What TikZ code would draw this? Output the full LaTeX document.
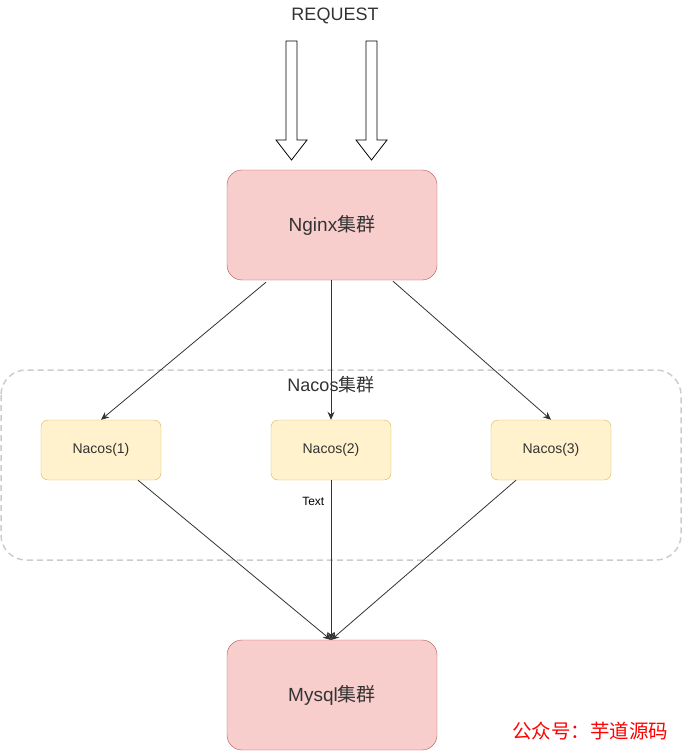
\documentclass[tikz,border=0pt]{standalone}
\usepackage{fontspec}
\setmainfont{Liberation Sans}
\newfontfamily\cjk{Noto Sans CJK SC}
\usetikzlibrary{arrows.meta}
\definecolor{redfill}{HTML}{F8CECC}
\definecolor{redline}{HTML}{B85450}
\definecolor{yelfill}{HTML}{FFF2CC}
\definecolor{yelline}{HTML}{D6B656}
\definecolor{txt}{HTML}{333333}
\definecolor{grp}{HTML}{CCCCCC}
\begin{document}
\begin{tikzpicture}[x=1pt,y=-1pt,
  bigbox/.style={draw=redline,fill=redfill,rounded corners=15pt,minimum width=210pt,minimum height=110pt,inner sep=0pt,font=\fontsize{19}{21}\selectfont,text=txt},
  nacbox/.style={draw=yelline,fill=yelfill,rounded corners=7pt,minimum width=120pt,minimum height=60pt,inner sep=0pt,font=\fontsize{14}{16}\selectfont,text=txt},
  conn/.style={draw=txt,line width=0.8pt,-{Stealth[length=8pt,width=7pt]}},
  blockarrow/.style={draw=black,fill=white,line width=0.8pt}]
\useasboundingbox (0,0) rectangle (682,751);
% group
\draw[grp,dashed,dash pattern=on 6pt off 4pt,line width=1.5pt,rounded corners=25pt] (1,370) rectangle (681,560);
\node[font=\fontsize{18}{20}\selectfont,text=txt] (grplabel) at (331,385) {Nacos{\cjk 集群}};
% request
\node[font=\fontsize{18}{20}\selectfont,text=txt] (req) at (335,16) {REQUEST};
\draw[blockarrow] (286,41) -- (297,41) -- (297,140) -- (307,140) -- (291.5,160) -- (276,140) -- (286,140) -- cycle;
\draw[blockarrow] (366,41) -- (377,41) -- (377,140) -- (387,140) -- (371.5,160) -- (356,140) -- (366,140) -- cycle;
% boxes
\node[bigbox] (nginx) at (332,225) {\raisebox{-1pt}{Nginx{\cjk 集群}}};
\node[bigbox] (mysql) at (332,695) {\raisebox{-1pt}{Mysql{\cjk 集群}}};
\node[nacbox] (n1) at (101,450) {\raisebox{-2pt}{Nacos(1)}};
\node[nacbox] (n2) at (331,450) {\raisebox{-2pt}{Nacos(2)}};
\node[nacbox] (n3) at (551,450) {\raisebox{-2pt}{Nacos(3)}};
\coordinate (m) at (331,640);
% connectors
\draw[conn] (nginx.south -| 266,0) ++(0,2) -- (n1.north);
\draw[conn] (nginx.south -| n2.north) -- (n2.north);
\draw[conn] (nginx.south -| 393,0) ++(0,1) -- (n3.north);
\draw[conn] (n1.south -| 138,0) -- (m);
\draw[conn] (n2.south) -- node[pos=0.13,left=3pt,font=\fontsize{12}{14}\selectfont,text=black] (tlab) {Text} (m);
\draw[conn] (n3.south -| 516,0) -- (m);
% watermark
\node[text=red,font=\cjk\fontsize{19.5}{22}\selectfont,anchor=east] (wm) at (672,731) {公众号：芋道源码};
\end{tikzpicture}
\end{document}
